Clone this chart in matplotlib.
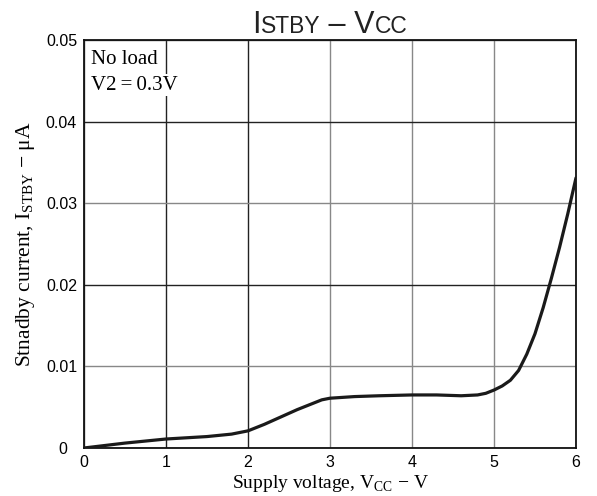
import matplotlib
matplotlib.use("Agg")
import matplotlib.pyplot as plt
from matplotlib.offsetbox import TextArea, HPacker, AnchoredOffsetbox

# supply voltage (V) and standby current (uA)
vcc = [0, 0.5, 1, 1.5, 1.8, 2, 2.2, 2.4, 2.6, 2.8, 2.9, 3, 3.3, 3.6, 4,
       4.3, 4.6, 4.8, 4.9, 5, 5.1, 5.2, 5.3, 5.4, 5.5, 5.6, 5.7, 5.8,
       5.9, 6]
istby = [0, 0.0006, 0.0011, 0.0014, 0.0017, 0.0021, 0.0029, 0.0038, 0.0047,
         0.0055, 0.0059, 0.0061, 0.0063, 0.0064, 0.0065, 0.0065, 0.0064,
         0.0065, 0.0067, 0.0071, 0.0076, 0.0083, 0.0095, 0.0115, 0.0140,
         0.0172, 0.0208, 0.0246, 0.0287, 0.0331]

x_ticks = [0, 1, 2, 3, 4, 5, 6]
y_ticks = [0, 0.01, 0.02, 0.03, 0.04, 0.05]
y_labels = ["0  ", "0.01", "0.02", "0.03", "0.04", "0.05"]

plt.rcParams["mathtext.fontset"] = "custom"
plt.rcParams["mathtext.rm"] = "Liberation Serif"
plt.rcParams["mathtext.sf"] = "Liberation Sans"

fig = plt.figure(figsize=(5.97, 4.96), dpi=100)
ax = fig.add_axes([0.1407, 0.0968, 0.8241, 0.8226])

ax.plot(vcc, istby, color="#1a1a1a", linewidth=2.3, solid_capstyle="round",
        solid_joinstyle="round", zorder=3)

ax.set_xlim(0, 6)
ax.set_ylim(0, 0.05)
ax.set_xticks(x_ticks)
ax.set_yticks(y_ticks)
ax.set_yticklabels(y_labels)
ax.tick_params(length=0, labelsize=11.5, pad=5)
for lab in ax.get_xticklabels() + ax.get_yticklabels():
    lab.set_family("Liberation Sans")

ax.grid(True, linewidth=1.0, zorder=1)
x_grid_colors = ["#555", "#222", "#222", "#888", "#888", "#888", "#888"]
for line, c in zip(ax.get_xgridlines(), x_grid_colors):
    line.set_color(c)
y_grid_colors = ["#555", "#888", "#222", "#888", "#222", "#555"]
for line, c in zip(ax.get_ygridlines(), y_grid_colors):
    line.set_color(c)

for sp in ax.spines.values():
    sp.set_linewidth(1.3)
    sp.set_color("#111")

# title: big letters with small subscripts sitting on one baseline
big = dict(family="Liberation Sans", fontsize=22, color="#222")
small = dict(family="Liberation Sans", fontsize=16.5, color="#222")
parts = [TextArea("I", textprops=big),
         TextArea("STBY", textprops=small),
         TextArea(" \u2013 V", textprops=big),
         TextArea("CC", textprops=small)]
title = HPacker(children=parts, align="baseline", pad=0, sep=0)
anchored = AnchoredOffsetbox(loc="lower center", child=title, pad=0,
                             borderpad=0, frameon=False,
                             bbox_to_anchor=(0.5, 1.0),
                             bbox_transform=ax.transAxes)
ax.add_artist(anchored)

ax.set_xlabel(r"Supply voltage, V$_{\mathrm{CC}}$ $\mathrm{-}$ V",
              family="Liberation Serif", fontsize=14, labelpad=2)
ax.set_ylabel("Stnadby current, I$_{\\mathrm{STBY}}$ $\\mathrm{-}$ \u03bcA",
              family="Liberation Serif", fontsize=15.5, labelpad=6)

ax.text(0.08, 0.0488, "No load", family="Liberation Serif", fontsize=15,
        va="top", ha="left", zorder=4)
ax.text(0.08, 0.0456, "V2\u2009=\u20090.3V", family="Liberation Serif",
        fontsize=15, va="top", ha="left", zorder=4,
        bbox=dict(facecolor="white", edgecolor="none", pad=1.0))

fig.savefig("out.png", dpi=100)
